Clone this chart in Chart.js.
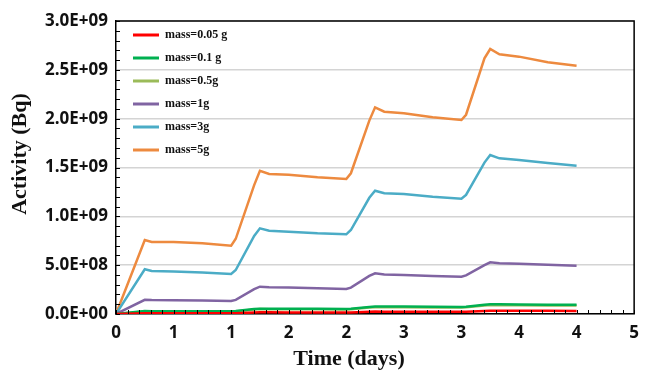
<!DOCTYPE html>
<html>
<head>
<meta charset="utf-8">
<script src="https://cdn.jsdelivr.net/npm/chart.js@4.4.1/dist/chart.umd.min.js"></script>
<style>
html,body{margin:0;padding:0;background:#fff;}
#wrap{width:648px;height:374px;}
</style>
</head>
<body>
<div id="wrap"><canvas id="c" width="648" height="374"></canvas></div>
<script>
// ---- data ----
const timeDays = [0, 0.25, 0.31, 0.5, 0.75, 1.0, 1.04, 1.2, 1.25, 1.33, 1.5, 1.75, 2.0, 2.04, 2.2, 2.25, 2.33, 2.5, 2.75, 3.0, 3.04, 3.2, 3.25, 3.33, 3.5, 3.75, 4.0];
const seriesNames = ['mass=0.05 g', 'mass=0.1 g', 'mass=0.5g', 'mass=1g', 'mass=3g', 'mass=5g'];
const mass005 = [0, 0.008e9, 0.008e9, 0.008e9, 0.007e9, 0.007e9, 0.008e9, 0.015e9, 0.017e9, 0.017e9, 0.016e9, 0.016e9, 0.015e9, 0.016e9, 0.023e9, 0.025e9, 0.024e9, 0.024e9, 0.023e9, 0.023e9, 0.024e9, 0.031e9, 0.034e9, 0.033e9, 0.033e9, 0.032e9, 0.031e9];
const mass01 = [0, 0.030e9, 0.029e9, 0.029e9, 0.028e9, 0.027e9, 0.030e9, 0.050e9, 0.055e9, 0.054e9, 0.054e9, 0.053e9, 0.052e9, 0.054e9, 0.072e9, 0.077e9, 0.076e9, 0.076e9, 0.074e9, 0.072e9, 0.075e9, 0.095e9, 0.100e9, 0.099e9, 0.098e9, 0.095e9, 0.094e9];
const mass05 = [0, 0.026e9, 0.025e9, 0.025e9, 0.024e9, 0.024e9, 0.026e9, 0.045e9, 0.050e9, 0.049e9, 0.049e9, 0.048e9, 0.047e9, 0.049e9, 0.066e9, 0.070e9, 0.069e9, 0.069e9, 0.067e9, 0.066e9, 0.068e9, 0.086e9, 0.091e9, 0.090e9, 0.089e9, 0.087e9, 0.086e9];
const mass1 = [0, 0.145e9, 0.143e9, 0.142e9, 0.137e9, 0.133e9, 0.145e9, 0.255e9, 0.280e9, 0.275e9, 0.272e9, 0.264e9, 0.256e9, 0.270e9, 0.390e9, 0.417e9, 0.405e9, 0.400e9, 0.390e9, 0.382e9, 0.395e9, 0.500e9, 0.529e9, 0.519e9, 0.515e9, 0.503e9, 0.495e9];
const mass3 = [0, 0.458e9, 0.440e9, 0.436e9, 0.425e9, 0.410e9, 0.450e9, 0.800e9, 0.877e9, 0.853e9, 0.843e9, 0.826e9, 0.816e9, 0.860e9, 1.190e9, 1.262e9, 1.236e9, 1.229e9, 1.201e9, 1.180e9, 1.220e9, 1.550e9, 1.628e9, 1.594e9, 1.577e9, 1.545e9, 1.518e9];
const mass5 = [0, 0.758e9, 0.737e9, 0.738e9, 0.725e9, 0.700e9, 0.770e9, 1.320e9, 1.467e9, 1.433e9, 1.426e9, 1.400e9, 1.382e9, 1.441e9, 1.980e9, 2.116e9, 2.071e9, 2.055e9, 2.015e9, 1.986e9, 2.040e9, 2.618e9, 2.713e9, 2.659e9, 2.635e9, 2.577e9, 2.542e9];
const xTickLabels = ['0', '1', '1', '2', '2', '3', '3', '4', '4', '5'];
const yTickLabels = ['0.0E+00', '5.0E+08', '1.0E+09', '1.5E+09', '2.0E+09', '2.5E+09', '3.0E+09'];
const xTitle = 'Time (days)';
const yTitle = 'Activity (Bq)';

// ---- styles ----
const colors = ['#ff0000', '#00b050', '#9bbb59', '#8064a2', '#4bacc6', '#ed8a3f'];
const allSeries = [mass005, mass01, mass05, mass1, mass3, mass5];
const tickFont = {family: '"Open Sans", "Liberation Sans", sans-serif', size: 17, weight: 'bold'};

const datasets = allSeries.map((s, i) => ({
  label: seriesNames[i],
  data: s.map((v, j) => ({x: timeDays[j], y: v})),
  borderColor: colors[i],
  backgroundColor: colors[i],
  borderWidth: 2.5,
  pointRadius: 0,
  tension: 0,
  fill: false
}));

const decor = {
  id: 'decor',
  afterDraw(chart) {
    const ctx = chart.ctx;
    const a = chart.chartArea;
    const xs = chart.scales.x, ys = chart.scales.y;
    ctx.save();
    // frame top/right
    ctx.strokeStyle = '#000';
    ctx.lineWidth = 1.5;
    ctx.beginPath();
    ctx.moveTo(a.left, a.top); ctx.lineTo(a.right, a.top); ctx.lineTo(a.right, a.bottom);
    ctx.stroke();
    // minor ticks
    ctx.lineWidth = 1;
    ctx.beginPath();
    for (let k = 0; k <= 45; k++) {
      const px = Math.round(xs.getPixelForValue(k / 10)) + 0.5;
      ctx.moveTo(px, a.bottom); ctx.lineTo(px, a.bottom - 4);
    }
    for (let k = 0; k <= 30; k++) {
      const py = Math.round(ys.getPixelForValue(k * 1e8)) + 0.5;
      ctx.moveTo(a.left, py); ctx.lineTo(a.left + 4, py);
    }
    ctx.stroke();
    // legend
    ctx.font = 'bold 12px "Liberation Serif", "Times New Roman", serif';
    ctx.textBaseline = 'middle';
    ctx.textAlign = 'left';
    chart.data.datasets.forEach((d, i) => {
      const y = a.top + 14 + i * 23;
      ctx.strokeStyle = d.borderColor;
      ctx.lineWidth = 3;
      ctx.beginPath(); ctx.moveTo(a.left + 17, y); ctx.lineTo(a.left + 43, y); ctx.stroke();
      ctx.fillStyle = '#111';
      ctx.fillText(d.label, a.left + 49, y);
    });
    // axis titles
    ctx.fillStyle = '#111';
    ctx.font = 'bold 22px "Liberation Serif", "Times New Roman", serif';
    ctx.textAlign = 'center';
    ctx.textBaseline = 'alphabetic';
    ctx.fillText(xTitle, 349, 365);
    ctx.translate(26, 154);
    ctx.rotate(-Math.PI / 2);
    ctx.fillText(yTitle, 0, 0);
    ctx.restore();
  }
};

new Chart(document.getElementById('c'), {
  type: 'line',
  data: {datasets},
  plugins: [decor],
  options: {
    responsive: false,
    animation: false,
    events: [],
    layout: {padding: {top: 21, right: 12, left: 0, bottom: 0}},
    plugins: {legend: {display: false}, tooltip: {enabled: false}},
    scales: {
      x: {
        type: 'linear', min: 0, max: 4.5,
        afterBuildTicks: s => { s.ticks = xTickLabels.map((_, i) => ({value: i * 0.5})); },
        afterFit: s => { s.height = 60; },
        grid: {display: false, drawTicks: false},
        border: {display: true, color: '#000', width: 1.5},
        ticks: {
          autoSkip: false, maxRotation: 0, padding: 9, color: '#111', font: tickFont,
          callback: (v, i) => xTickLabels[i]
        }
      },
      y: {
        type: 'linear', min: 0, max: 3e9,
        afterBuildTicks: s => { s.ticks = yTickLabels.map((_, i) => ({value: i * 5e8})); },
        afterFit: s => { s.width = 116; },
        grid: {color: '#d4d4d4', lineWidth: 1.5, drawTicks: false},
        border: {display: true, color: '#000', width: 1.5},
        ticks: {
          padding: 8, color: '#111', font: tickFont,
          callback: (v, i) => yTickLabels[i]
        }
      }
    }
  }
});
</script>
</body>
</html>
